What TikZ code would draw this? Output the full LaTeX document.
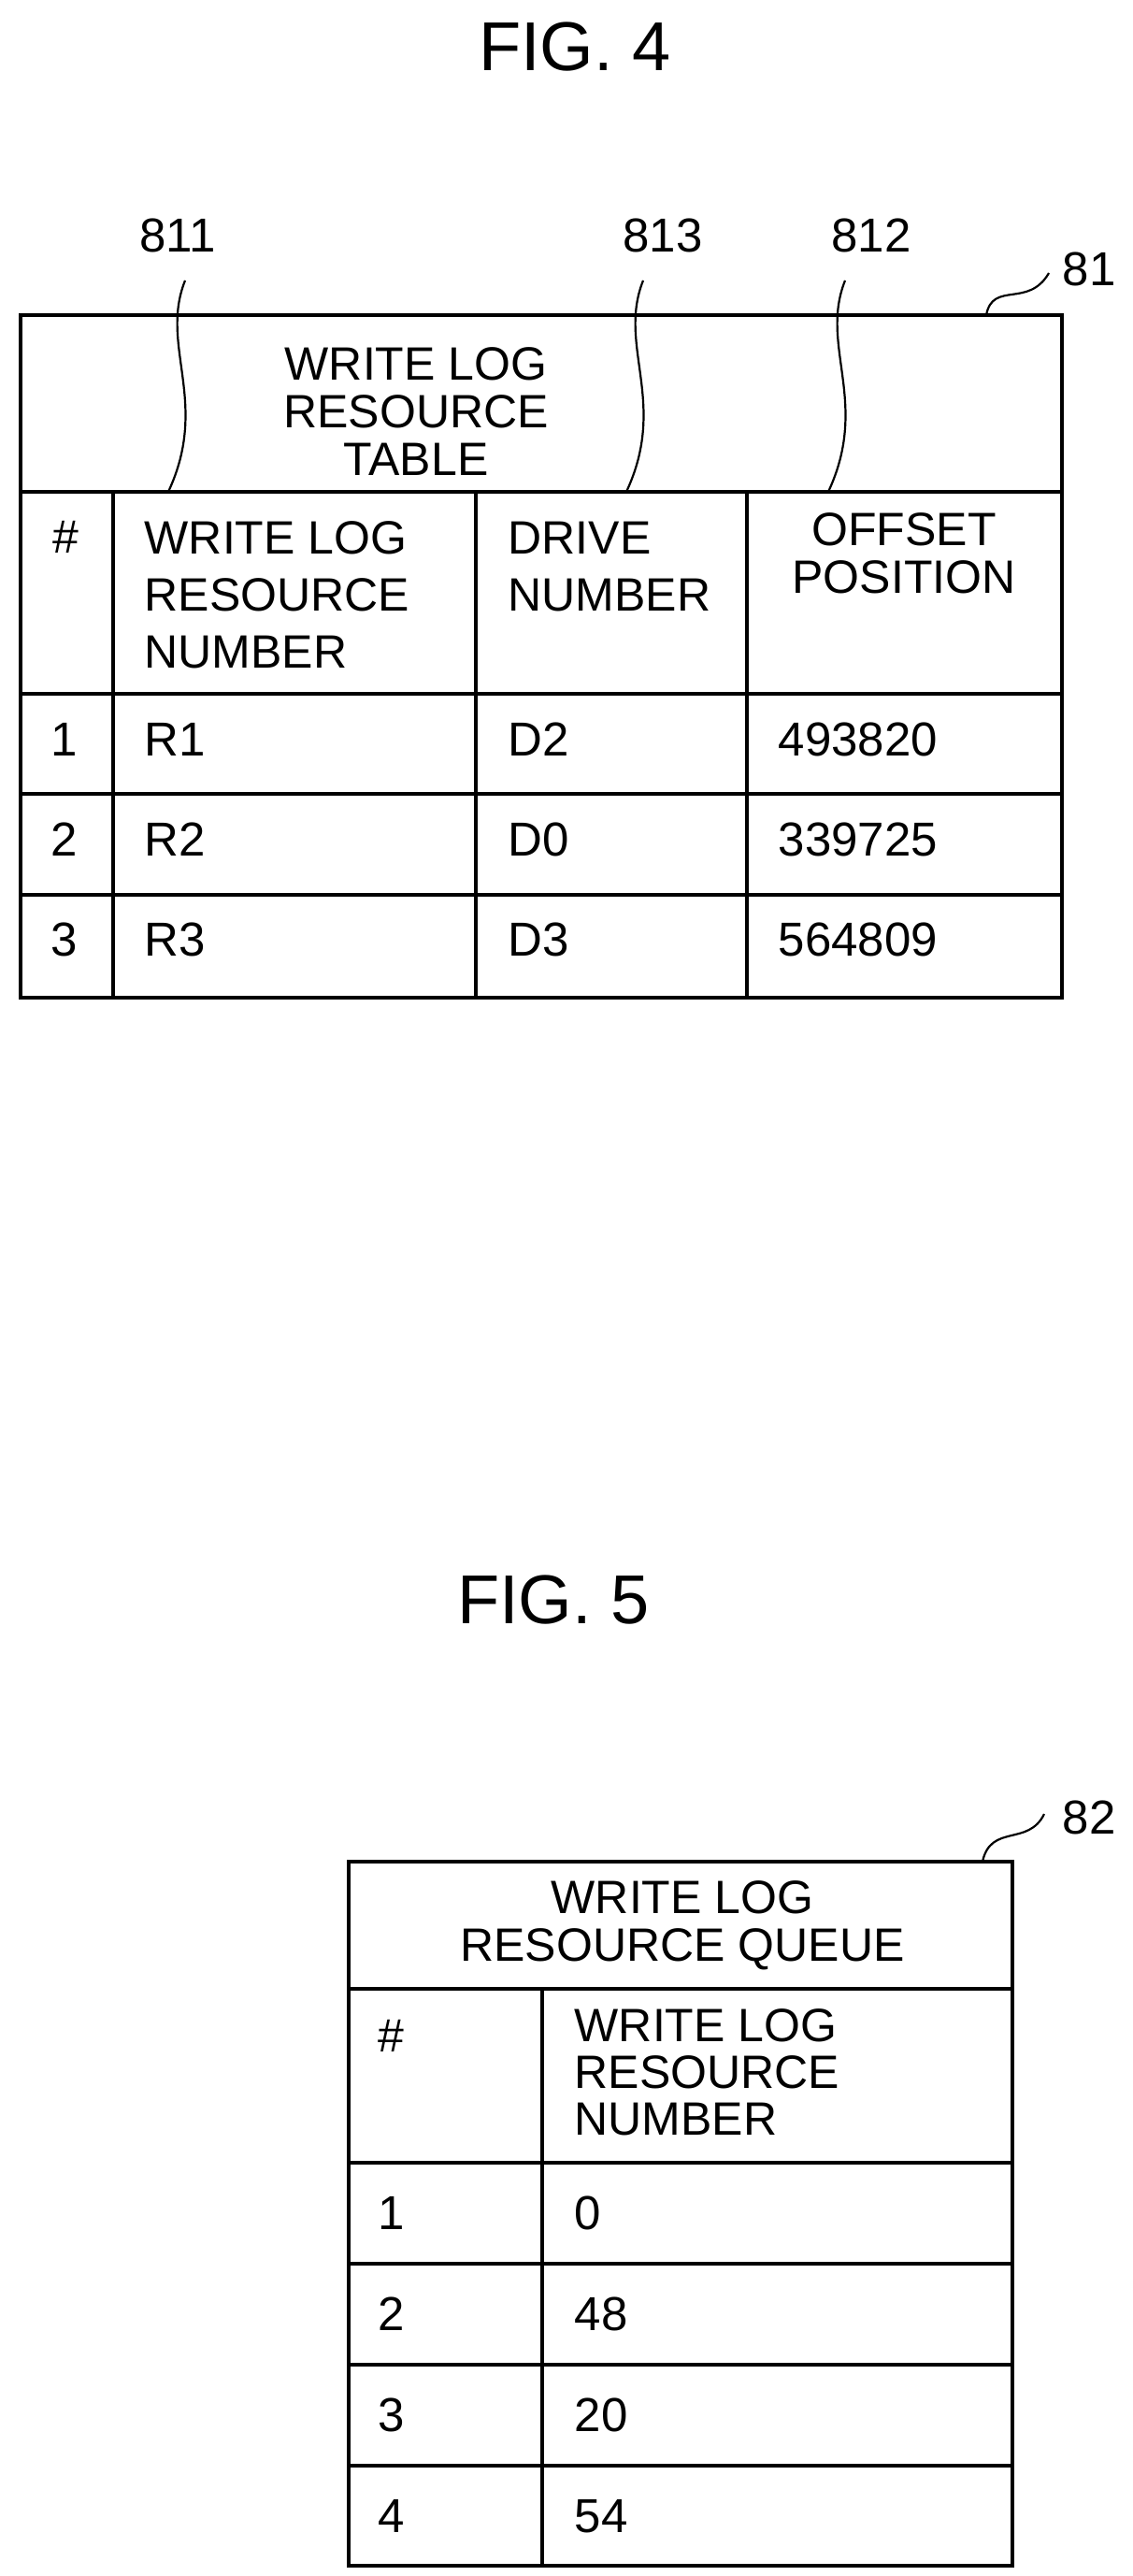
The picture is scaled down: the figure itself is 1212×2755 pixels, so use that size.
\documentclass[tikz,border=0pt]{standalone}
\usepackage{fontspec}
\setmainfont{Liberation Sans}
\begin{document}
\begin{tikzpicture}[x=1pt,y=-1pt,line width=3.5pt,
  txt/.style={inner sep=0pt,font=\fontsize{50}{61}\selectfont,align=left,anchor=north west},
  ctr/.style={inner sep=0pt,font=\fontsize{50}{51}\selectfont,align=center,anchor=north},
  lbl/.style={inner sep=0pt,font=\fontsize{51}{51}\selectfont},
  lead/.style={line width=2.2pt}]
\useasboundingbox (0,0) rectangle (1212,2755);
\node[lbl,font=\fontsize{74}{74}\selectfont] (f4) at (615,50) {FIG. 4};
\node[lbl,font=\fontsize{74}{74}\selectfont] (f5) at (592,1711) {FIG. 5};
% table 1
\draw (22,337) rectangle (1136,1067);
\draw (22,526) -- (1136,526);
\draw (22,742) -- (1136,742);
\draw (22,849) -- (1136,849);
\draw (22,957) -- (1136,957);
\draw (121,526) -- (121,1067);
\draw (509,526) -- (509,1067);
\draw (799,526) -- (799,1067);
\node[ctr] (t1) at (445,370) {WRITE LOG\\RESOURCE\\TABLE};
\node[txt] (hh) at (55,556) {\#};
\node[txt] (h1) at (153,556) {WRITE LOG\\RESOURCE\\NUMBER};
\node[txt] (h2) at (542,556) {DRIVE\\NUMBER};
\node[ctr] (h3) at (967,547) {OFFSET\\POSITION};
\foreach \y/\n/\r/\d/\o in {791/1/R1/D2/493820, 898/2/R2/D0/339725, 1005/3/R3/D3/564809}{
  \node[lbl,anchor=west] (n\n) at (53,\y) {\n};
  \node[lbl,anchor=west] (r\n) at (153,\y) {\r};
  \node[lbl,anchor=west] (d\n) at (542,\y) {\d};
  \node[lbl,anchor=west] (o\n) at (831,\y) {\o};
}
\node[lbl] (l811) at (190,252) {811};
\node[lbl] (l813) at (709,252) {813};
\node[lbl] (l812) at (932,252) {812};
\node[lbl,anchor=west] (l81) at (1135,288) {81};
\coordinate (a1) at (198,300); \coordinate (b1) at (180,526);
\coordinate (a2) at (688,300); \coordinate (b2) at (670,526);
\coordinate (a3) at (904,300); \coordinate (b3) at (886,526);
\draw[lead] (a1) .. controls (170,370) and (225,430) .. (b1);
\draw[lead] (a2) .. controls (660,370) and (715,430) .. (b2);
\draw[lead] (a3) .. controls (876,370) and (931,430) .. (b3);
\coordinate (c81) at (1055,337); \coordinate (e81) at (1122,292);
\draw[lead] (c81) .. controls (1062,300) and (1100,330) .. (e81);
% table 2
\draw (373,1991) rectangle (1083,2744);
\draw (373,2127) -- (1083,2127);
\draw (373,2313) -- (1083,2313);
\draw (373,2421) -- (1083,2421);
\draw (373,2529) -- (1083,2529);
\draw (373,2637) -- (1083,2637);
\draw (580,2127) -- (580,2744);
\node[ctr] (t2) at (730,2010) {WRITE LOG\\RESOURCE QUEUE};
\node[txt] (qh) at (403,2159) {\#};
\node[txt,font=\fontsize{50}{50}\selectfont] (qh1) at (613,2147) {WRITE LOG\\RESOURCE\\NUMBER};
\foreach \y/\n/\v in {2367/1/0, 2475/2/48, 2583/3/20, 2691/4/54}{
  \node[lbl,anchor=west] (qn\n) at (403,\y) {\n};
  \node[lbl,anchor=west] (qv\n) at (613,\y) {\v};
}
\node[lbl,anchor=west] (l82) at (1135,1944) {82};
\coordinate (c82) at (1051,1991); \coordinate (e82) at (1117,1940);
\draw[lead] (c82) .. controls (1060,1950) and (1100,1975) .. (e82);
\end{tikzpicture}
\end{document}
